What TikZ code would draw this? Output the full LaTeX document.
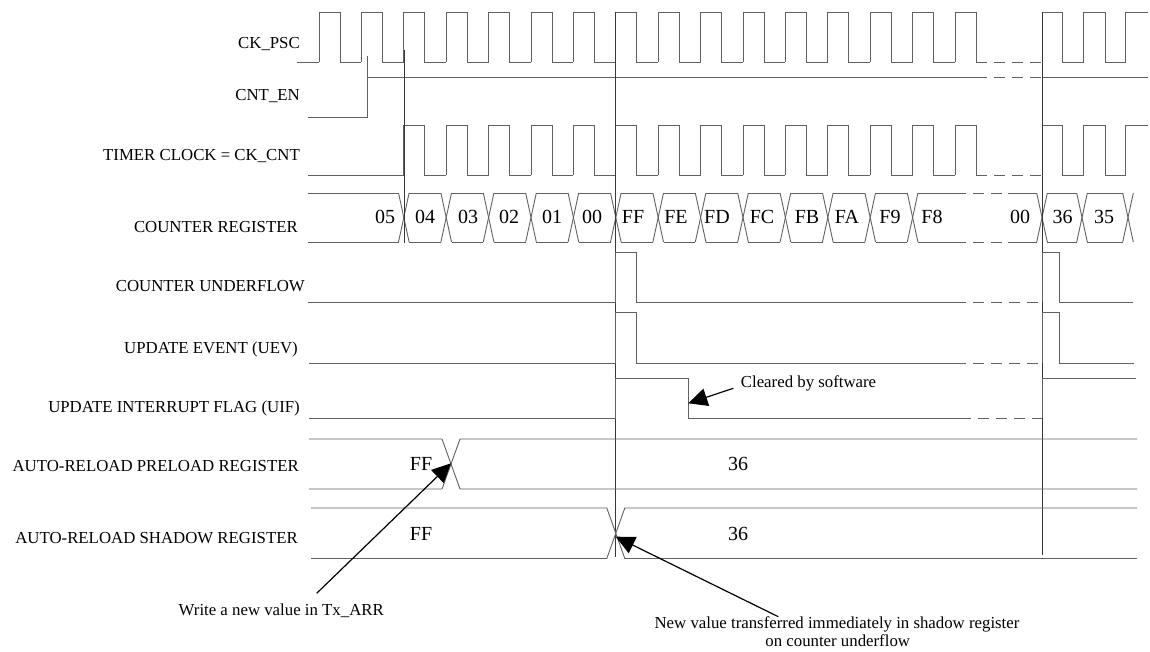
\documentclass[tikz,border=0pt]{standalone}
\usepackage{fontspec}
\setmainfont{Liberation Serif}
\usetikzlibrary{arrows.meta}
\begin{document}
\begin{tikzpicture}[x=1pt,y=-1pt,
  sig/.style={draw=black!62, line width=0.9pt},
  gapline/.style={draw=black!62, line width=0.9pt, dash pattern=on 11pt off 7pt},
  marker/.style={draw=black!78, line width=0.9pt},
  lbl/.style={anchor=base east, inner sep=0pt, font=\fontsize{16.8}{20}\selectfont},
  val/.style={anchor=base, inner sep=0pt, font=\fontsize{20}{24}\selectfont},
  note/.style={inner sep=0pt, font=\fontsize{16.8}{20}\selectfont},
  callout/.style={draw=black, line width=1.2pt, -{Triangle[length=19pt,width=18pt]}}
]
\useasboundingbox (0,0) rectangle (1150,652);

% ---------- signal names ----------
\node[lbl] (lckpsc) at (300,49) {CK\_PSC};
\node[lbl] (lcnten) at (300,100.7) {CNT\_EN};
\node[lbl] (ltimer) at (300,160.5) {TIMER CLOCK = CK\_CNT};
\node[lbl] (lcnt)   at (298,232.3) {COUNTER REGISTER};
\node[lbl] (luf)    at (305,291.7) {COUNTER UNDERFLOW};
\node[lbl] (luev)   at (298,353.3) {UPDATE EVENT (UEV)};
\node[lbl] (luif)   at (300,412.7) {UPDATE INTERRUPT FLAG (UIF)};
\node[lbl] (lpre)   at (299,471)   {AUTO-RELOAD PRELOAD REGISTER};
\node[lbl] (lsha)   at (298,543.3) {AUTO-RELOAD SHADOW REGISTER};

% ---------- CK_PSC ----------
\draw[sig] (297,62) -- (319,62);
\foreach \k in {0,...,14}{
  \pgfmathsetmacro\xa{319+42.4*\k}
  \draw[sig] (\xa,62) -- (\xa,12) -- ({\xa+21},12) -- ({\xa+21},62) -- ({\xa+42.4},62);
}
\draw[sig] (955,62) -- (955,12) -- (976,12) -- (976,62);
\draw[gapline] (976,62) -- (1042,62);
\draw[sig] (1042,62) -- (1042,12) -- (1062.7,12) -- (1062.7,62) -- (1083.3,62) -- (1083.3,12)
  -- (1105,12) -- (1105,62) -- (1125,62) -- (1125,12) -- (1148,12);

% ---------- CNT_EN ----------
\draw[sig] (308,117) -- (367,117) -- (367,56);
\draw[sig] (367,77) -- (976,77);
\draw[gapline] (976,77) -- (1042,77);
\draw[sig] (1042,77) -- (1148,77);

% ---------- TIMER CLOCK ----------
\draw[sig] (308,175) -- (403.8,175);
\foreach \k in {2,...,14}{
  \pgfmathsetmacro\xa{319+42.4*\k}
  \draw[sig] (\xa,175) -- (\xa,125) -- ({\xa+21},125) -- ({\xa+21},175) -- ({\xa+42.4},175);
}
\draw[sig] (955,175) -- (955,125) -- (976,125) -- (976,175);
\draw[gapline] (976,175) -- (1042,175);
\draw[sig] (1042,175) -- (1042,125) -- (1062.7,125) -- (1062.7,175) -- (1083.3,175) -- (1083.3,125)
  -- (1105,125) -- (1105,175) -- (1125,175) -- (1125,125) -- (1148,125);

% ---------- COUNTER REGISTER ----------
\draw[sig] (308,193) -- (398.5,193);
\draw[sig] (308,242) -- (398.5,242);
\foreach \k in {2,...,14}{
  \pgfmathsetmacro\xa{319+42.4*\k}
  \draw[sig] ({\xa-5.3},193) -- ({\xa+5.3},242);
  \draw[sig] ({\xa-5.3},242) -- ({\xa+5.3},193);
}
\foreach \k in {2,...,13}{
  \pgfmathsetmacro\xa{319+42.4*\k}
  \draw[sig] ({\xa+5.3},193) -- ({\xa+42.4-5.3},193);
  \draw[sig] ({\xa+5.3},242) -- ({\xa+42.4-5.3},242);
}
\draw[sig] (917.9,193) -- (955,193);
\draw[sig] (917.9,242) -- (955,242);
\draw[gapline] (955,193) -- (1008,193);
\draw[gapline] (955,242) -- (1008,242);
\draw[sig] (1008,193) -- (1036.7,193);
\draw[sig] (1008,242) -- (1036.7,242);
\foreach \t in {1042,1082,1128}{
  \draw[sig] ({\t-5.3},193) -- ({\t+5.3},242);
  \draw[sig] ({\t-5.3},242) -- ({\t+5.3},193);
}
\draw[sig] (1047.3,193) -- (1076.7,193);
\draw[sig] (1047.3,242) -- (1076.7,242);
\draw[sig] (1087.3,193) -- (1122.7,193);
\draw[sig] (1087.3,242) -- (1122.7,242);

\node[val] (c05)  at (385,223.5)  {05};
\node[val] (c04)  at (425,223.5)  {04};
\node[val] (c03)  at (468,223.5)  {03};
\node[val] (c02)  at (509,223.5)  {02};
\node[val] (c01)  at (552,223.5)  {01};
\node[val] (c00)  at (592,223.5)  {00};
\node[val] (cFF)  at (633,223.5)  {FF};
\node[val] (cFE)  at (676,223.5)  {FE};
\node[val] (cFD)  at (717,223.5)  {FD};
\node[val] (cFC)  at (762,223.5)  {FC};
\node[val] (cFB)  at (807,223.5)  {FB};
\node[val] (cFA)  at (847,223.5)  {FA};
\node[val] (cF9)  at (890,223.5)  {F9};
\node[val] (cF8)  at (932,223.5)  {F8};
\node[val] (c00b) at (1020,223.5) {00};
\node[val] (c36)  at (1062.5,223.5) {36};
\node[val] (c35)  at (1104,223.5) {35};

% ---------- marker lines ----------
\draw[marker] (404.5,50) -- (404.5,243);
\draw[marker] (615.8,12) -- (615.8,557);
\draw[marker] (1042,12) -- (1042,555);

% ---------- COUNTER UNDERFLOW ----------
\draw[sig] (308,302) -- (615.8,302) -- (615.8,252.5) -- (636.5,252.5) -- (636.5,302) -- (955,302);
\draw[gapline] (955,302) -- (1042,302);
\draw[sig] (1042,302) -- (1042,252.5) -- (1059.5,252.5) -- (1059.5,302) -- (1133,302);

% ---------- UPDATE EVENT ----------
\draw[sig] (309,363) -- (615.8,363) -- (615.8,312.5) -- (636.5,312.5) -- (636.5,363) -- (955,363);
\draw[gapline] (955,363) -- (1042,363);
\draw[sig] (1042,363) -- (1042,312.5) -- (1059.5,312.5) -- (1059.5,363) -- (1134,363);

% ---------- UIF ----------
\draw[sig] (309,418) -- (615.8,418) -- (615.8,378) -- (688,378) -- (688,418) -- (960,418);
\draw[gapline] (960,418) -- (1042,418);
\draw[sig] (1042,418) -- (1042,378) -- (1136,378);

% ---------- preload register ----------
\draw[sig] (309,439) -- (442,439) -- (460,489) -- (1137,489);
\draw[sig] (309,489) -- (442,489) -- (460,439) -- (1137,439);
\node[val] (pFF) at (421,470) {FF};
\node[val] (p36) at (738,470) {36};

% ---------- shadow register ----------
\draw[sig] (311,508) -- (606.8,508) -- (624.8,558.5) -- (1137,558.5);
\draw[sig] (311,558.5) -- (606.8,558.5) -- (624.8,508) -- (1137,508);
\node[val] (sFF) at (421,540.7) {FF};
\node[val] (s36) at (738,540.5) {36};

% ---------- notes ----------
\node[note, anchor=base west] (nclr) at (740.7,387) {Cleared by software};
\node[note, anchor=base east] (nwr) at (384,615.5) {Write a new value in Tx\_ARR};
\node[note, anchor=base] (nnew1) at (837,628.3) {New value transferred immediately in shadow register};
\node[note, anchor=base] (nnew2) at (837.7,646.7) {on counter underflow};

\coordinate (clrtail) at (733.3,388.3);
\coordinate (clrtip)  at (688.3,403.3);
\coordinate (wrtail)  at (316.7,593.3);
\coordinate (wrtip)   at (451,463.3);
\coordinate (newtail) at (778.3,616.7);
\coordinate (newtip)  at (615.7,536.7);

\draw[callout] (clrtail) -- (clrtip);
\draw[callout] (wrtail) -- (wrtip);
\draw[callout] (newtail) -- (newtip);
\end{tikzpicture}
\end{document}
